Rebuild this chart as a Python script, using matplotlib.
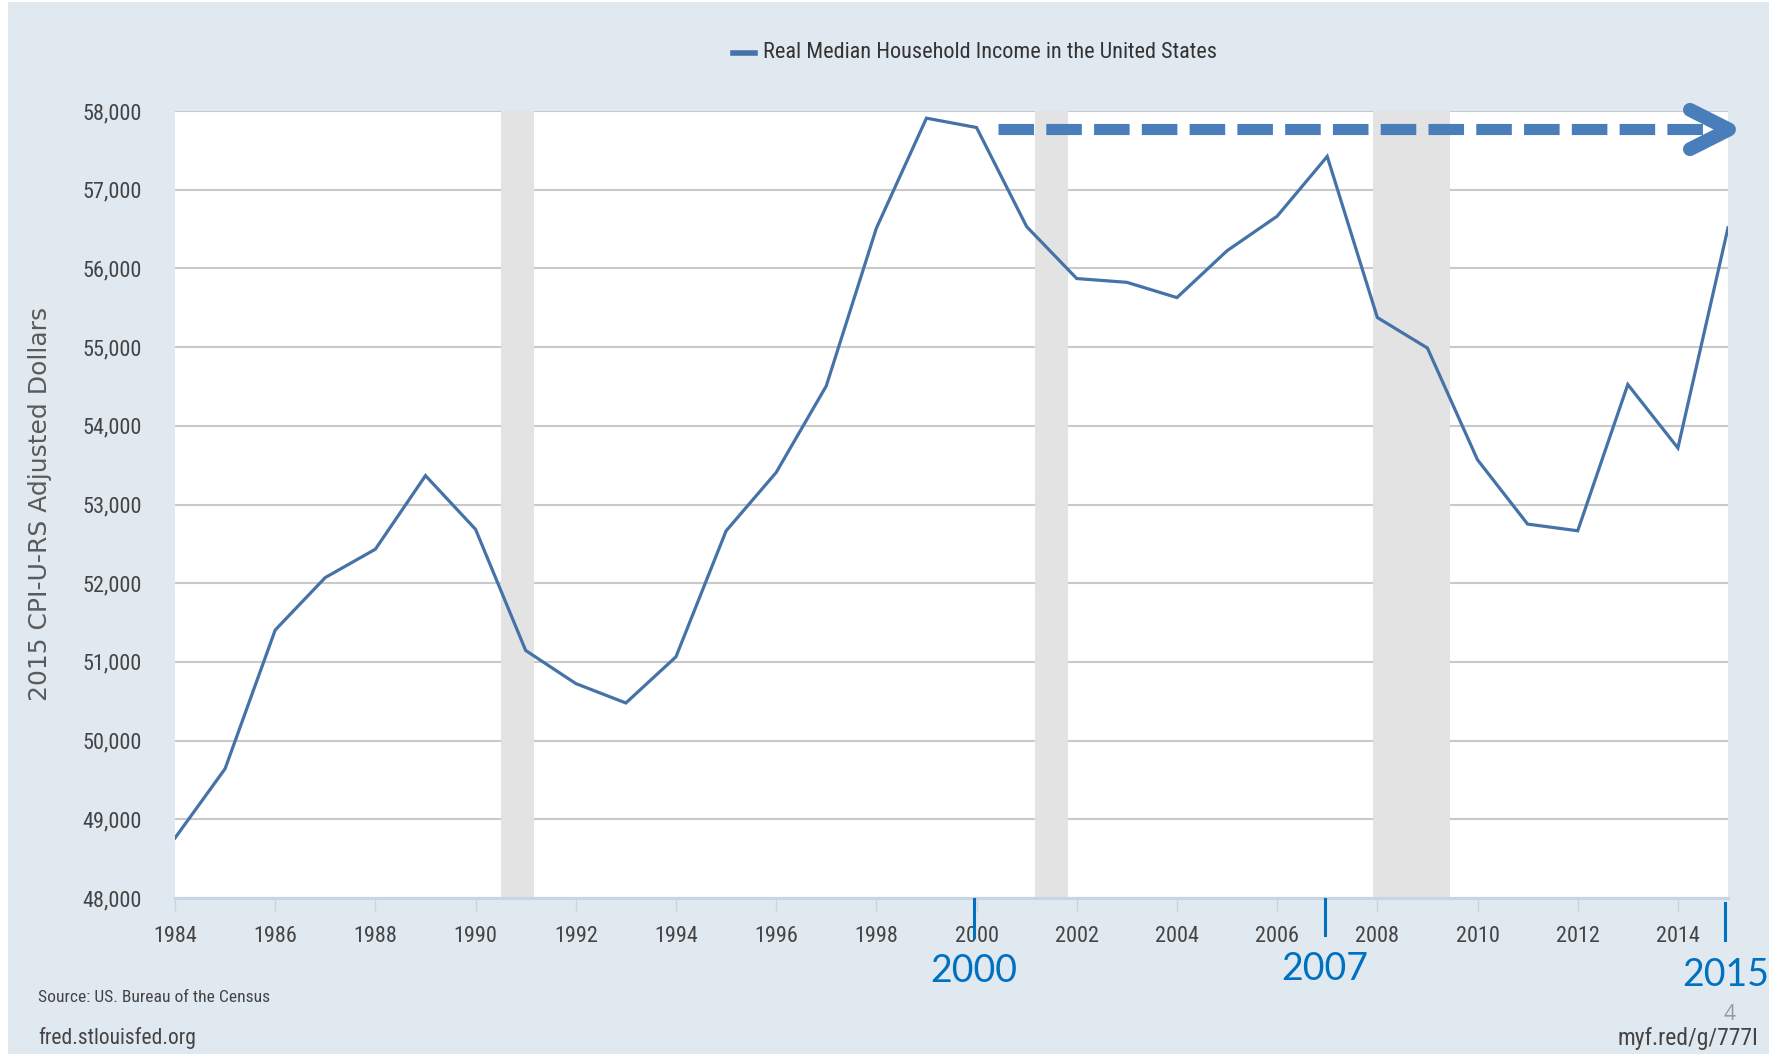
import matplotlib
matplotlib.use("Agg")
import matplotlib.pyplot as plt
from matplotlib import font_manager
import matplotlib.transforms as mtransforms
from matplotlib.patches import Rectangle

# ---------------- data ----------------
years = list(range(1984, 2016))
income = [48762, 49643, 51405, 52072, 52432, 53367, 52684, 51145, 50725, 50478,
          51065, 52664, 53407, 54506, 56510, 57909, 57790, 56531, 55871, 55823,
          55629, 56224, 56663, 57423, 55376, 54988, 53568, 52751, 52666, 54525,
          53718, 56516]
recession_start = [1990.5, 2001.17, 2007.92]
recession_end = [1991.17, 2001.83, 2009.45]
ytick_vals = list(range(48000, 58001, 1000))
xtick_vals = list(range(1984, 2015, 2))
marked_years = [2000, 2007, 2015]
arrow_level = 57765
series_name = "Real Median Household Income in the United States"
y_label = "2015 CPI-U-RS Adjusted Dollars"

# ---------------- fonts ----------------
available = {f.name for f in font_manager.fontManager.ttflist}
narrow = next((f for f in ["Liberation Sans Narrow", "Roboto Condensed", "Open Sans Condensed",
                           "DejaVu Sans Condensed", "Liberation Sans"] if f in available), "DejaVu Sans")
regular = "DejaVu Sans"
numfont = "Open Sans" if "Open Sans" in available else "DejaVu Sans"
bigfont = "Lato" if "Lato" in available else "DejaVu Sans"

W, H = 1781, 1054
fig = plt.figure(figsize=(W / 100, H / 100), dpi=100)
fig.patch.set_facecolor("white")

def fx(px):
    return px / W

def fy(py):
    return 1 - py / H

# chart background
fig.patches.append(Rectangle((fx(8), 0), fx(1769) - fx(8), fy(2), transform=fig.transFigure,
                             facecolor="#E1E9F0", edgecolor="none", zorder=-5))

ax_l, ax_r, ax_t, ax_b = 175, 1728, 111, 898
ax = fig.add_axes([fx(ax_l), fy(ax_b), fx(ax_r) - fx(ax_l), fy(ax_t) - fy(ax_b)])
ax.set_zorder(2)
ax.set_facecolor("white")
ax.set_xlim(1984, 2015)
ax.set_ylim(48000, 58000)

for s, e in zip(recession_start, recession_end):
    ax.axvspan(s, e, color="#E3E3E3", lw=0, zorder=1)

ax.set_yticks(ytick_vals)
ax.set_yticklabels([f"{v:,}" for v in ytick_vals])
ax.set_xticks(xtick_vals)
ax.set_xticklabels([str(v) for v in xtick_vals])
ax.grid(axis="y", color="#C9C9C9", lw=1.5, zorder=2)
ax.set_axisbelow(True)
for sp in ["left", "right", "top"]:
    ax.spines[sp].set_visible(False)
ax.spines["bottom"].set_color("#C5D5E6")
ax.spines["bottom"].set_linewidth(2.2)
ax.tick_params(axis="y", length=0, pad=24, labelsize=16, labelcolor="#444444")
ax.tick_params(axis="x", length=10, width=1, color="#C5D5E6", pad=10.5, labelsize=16,
               labelcolor="#444444")
for lab in ax.get_xticklabels() + ax.get_yticklabels():
    lab.set_family(narrow)

line, = ax.plot(years, income, color="#4572A7", lw=2.3, zorder=4, label=series_name,
                solid_joinstyle="miter")

# legend (manual, top centre)
fig.add_artist(plt.Line2D([fx(733), fx(755)], [fy(53), fy(53)], color="#4572A7", lw=4,
                          transform=fig.transFigure))
fig.text(fx(763), fy(53), series_name, family=narrow, fontsize=16, color="#333333",
         ha="left", va="center")

# y axis label
fig.text(fx(40), fy(504), y_label, family=regular, fontsize=18, color="#5A5A5A",
         rotation=90, ha="center", va="center")

# dashed arrow annotation
arrow_color = "#4A7EBB"
ax.plot([2000.43, 2014.6], [arrow_level, arrow_level], color=arrow_color, lw=8,
        linestyle=(0, (3.2, 1.1)), dash_capstyle="butt", clip_on=False, zorder=6)
ax.plot([2014.24, 2015.02, 2014.24], [arrow_level + 250, arrow_level, arrow_level - 250],
        color=arrow_color, lw=10, solid_capstyle="round", solid_joinstyle="round",
        clip_on=False, zorder=6)

# marked years below axis
trans = mtransforms.blended_transform_factory(ax.transData, ax.transAxes)
trans_fig = mtransforms.blended_transform_factory(ax.transData, fig.transFigure)
mark_color = "#0070C0"
mark_offsets = [(-0.001, -0.0496), (-0.001, -0.047), (-0.0064, -0.053)]
label_y = [971, 969, 975]
for yr, (y0, y1), ly in zip(marked_years, mark_offsets, label_y):
    ax.plot([yr - 0.05, yr - 0.05], [y0, y1], transform=trans, color=mark_color, lw=2.2,
            clip_on=False, zorder=7)
    ax.text(yr - 0.05, fy(ly), str(yr), transform=trans_fig,
            family=bigfont, fontsize=27, color=mark_color, ha="center", va="center",
            clip_on=False)

# footer texts
fig.text(fx(38), fy(997), "Source: US. Bureau of the Census", family=narrow, fontsize=12.6,
         color="#444444", ha="left", va="center")
fig.text(fx(38), fy(1038), "fred.stlouisfed.org", family=narrow, fontsize=15.5,
         color="#444444", ha="left", va="center")
fig.text(fx(1758), fy(1038), "myf.red/g/777I", family=narrow, fontsize=17,
         color="#444444", ha="right", va="center")
fig.text(fx(1730), fy(1014), "4", family=numfont, fontsize=15, color="#9A9A9A",
         ha="center", va="center")

fig.savefig("out.png", dpi=100, facecolor=fig.get_facecolor())
